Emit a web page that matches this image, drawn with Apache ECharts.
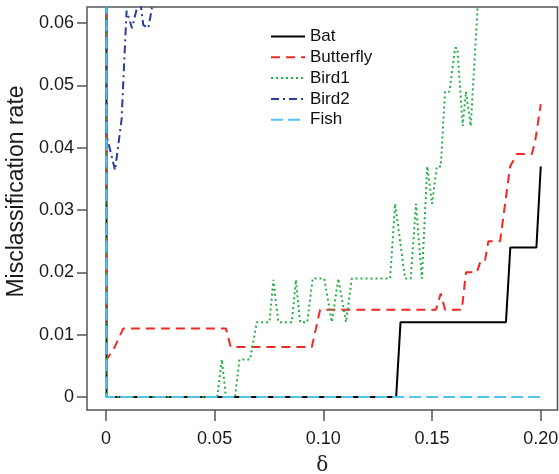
<!DOCTYPE html>
<html>
<head>
<meta charset="utf-8">
<script src="https://cdn.jsdelivr.net/npm/echarts@6/dist/echarts.min.js"></script>
<style>
  html, body { margin: 0; padding: 0; background: #ffffff; }
  #chart { width: 559px; height: 474px; }
</style>
</head>
<body>
<div id="chart"></div>
<script>
// ---- tick values / labels ----
const xTickValues = [0, 0.05, 0.10, 0.15, 0.20];
const xTickLabels = ['0', '0.05', '0.10', '0.15', '0.20'];
const yTickValues = [0, 0.01, 0.02, 0.03, 0.04, 0.05, 0.06];
const yTickLabels = ['0', '0.01', '0.02', '0.03', '0.04', '0.05', '0.06'];

// ---- series names ----
const seriesNames = ['Bat', 'Butterfly', 'Bird1', 'Bird2', 'Fish'];

// ---- Bat ----
const batDelta = [0, 0.0003, 0.1335, 0.1355, 0.184, 0.186, 0.198, 0.2];
const batRate  = [0.5, 0, 0, 0.012, 0.012, 0.024, 0.024, 0.037];

// ---- Butterfly ----
const butterflyDelta = [0, 0.0003, 0.004, 0.008, 0.0552, 0.0574, 0.0947, 0.0985, 0.1518, 0.154, 0.156, 0.1637, 0.1656, 0.1706, 0.1725, 0.1744, 0.1759, 0.1813, 0.1859, 0.189, 0.1959, 0.1974, 0.2];
const butterflyRate  = [0.5, 0.006, 0.008, 0.011, 0.011, 0.008, 0.008, 0.014, 0.014, 0.0166, 0.014, 0.014, 0.020, 0.020, 0.022, 0.022, 0.025, 0.025, 0.037, 0.039, 0.039, 0.041, 0.047];

// ---- Bird1 ----
const bird1Delta = [0, 0.0003, 0.0512, 0.0533, 0.0552, 0.0594, 0.0614, 0.0663, 0.0694, 0.0752, 0.0770, 0.0793, 0.0855, 0.0874, 0.0893, 0.0926, 0.0951, 0.1004, 0.1039, 0.1069, 0.1104, 0.1131, 0.1307, 0.1330, 0.1376, 0.1402, 0.1426, 0.1453, 0.1478, 0.1500, 0.1522, 0.1540, 0.1560, 0.1580, 0.1606, 0.1616, 0.1641, 0.1656, 0.1678, 0.1712, 0.175, 0.2];
const bird1Rate  = [0.5, 0, 0, 0.006, 0, 0, 0.006, 0.006, 0.012, 0.012, 0.0188, 0.012, 0.012, 0.0188, 0.012, 0.012, 0.019, 0.019, 0.012, 0.019, 0.012, 0.019, 0.019, 0.031, 0.019, 0.019, 0.031, 0.019, 0.037, 0.031, 0.037, 0.037, 0.049, 0.049, 0.056, 0.056, 0.0435, 0.049, 0.0435, 0.064, 0.07, 0.08];

// ---- Bird2 ----
const bird2Delta = [0, 0.0003, 0.0042, 0.0072, 0.0095, 0.0120, 0.0143, 0.0158, 0.0172, 0.0195, 0.0210, 0.0230, 0.2];
const bird2Rate  = [0.5, 0.042, 0.0364, 0.0445, 0.062, 0.0592, 0.0625, 0.0635, 0.0597, 0.0592, 0.0621, 0.068, 0.09];

// ---- Fish ----
const fishDelta = [0, 0.0003, 0.2];
const fishRate  = [0.5, 0, 0];

function pairs(xs, ys) { return xs.map((x, i) => [x, ys[i]]); }
function labelFor(values, labels, v) {
  for (let i = 0; i < values.length; i++) if (Math.abs(values[i] - v) < 1e-9) return labels[i];
  return '';
}

const chart = echarts.init(document.getElementById('chart'), null, { renderer: 'canvas' });

const FONT = 'Liberation Sans, Arial, sans-serif';
const frameColor = '#555555';

const option = {
  animation: false,
  backgroundColor: '#ffffff',
  grid: {
    left: 87, right: 1.5, top: 7, bottom: 64,
    outerBoundsMode: 'none',
    containLabel: false,
    show: true, borderColor: frameColor, borderWidth: 1.5, backgroundColor: 'transparent'
  },
  legend: {
    orient: 'vertical',
    left: 265, top: 23,
    padding: 5,
    itemWidth: 34, itemHeight: 20, itemGap: 3.8,
    data: seriesNames,
    itemStyle: { opacity: 0, color: 'transparent', borderWidth: 0 },
    textStyle: { fontFamily: FONT, fontSize: 17, color: '#111' }
  },
  xAxis: {
    type: 'value',
    min: -0.0087, max: 0.2077,
    name: 'δ',
    nameLocation: 'middle',
    nameGap: 46,
    nameTextStyle: { fontFamily: 'DejaVu Serif, serif', fontSize: 20, color: '#222' },
    axisLine: { show: false, onZero: false },
    splitLine: { show: false },
    axisTick: { show: true, inside: false, length: 11, customValues: xTickValues, lineStyle: { color: frameColor, width: 1.5 } },
    axisLabel: {
      customValues: xTickValues, margin: 20,
      fontFamily: FONT, fontSize: 18, color: '#1a1a1a',
      formatter: v => labelFor(xTickValues, xTickLabels, v)
    }
  },
  yAxis: {
    type: 'value',
    min: -0.0021, max: 0.0626,
    name: 'Misclassification rate',
    nameLocation: 'middle',
    nameGap: 57,
    nameTextStyle: { fontFamily: FONT, fontSize: 23, color: '#1a1a1a', padding: [0, 0, 0, 34] },
    axisLine: { show: false, onZero: false },
    splitLine: { show: false },
    axisTick: { show: true, inside: false, length: 10, customValues: yTickValues, lineStyle: { color: frameColor, width: 1.5 } },
    axisLabel: {
      customValues: yTickValues, margin: 13,
      fontFamily: FONT, fontSize: 18, color: '#1a1a1a',
      formatter: v => labelFor(yTickValues, yTickLabels, v)
    }
  },
  series: [
    { name: 'Bat', type: 'line', data: pairs(batDelta, batRate), symbol: 'none', clip: true,
      lineStyle: { color: '#000000', width: 2, type: 'solid' }, itemStyle: { color: '#000000' } },
    { name: 'Butterfly', type: 'line', data: pairs(butterflyDelta, butterflyRate), symbol: 'none', clip: true,
      lineStyle: { color: '#EE2A24', width: 2, type: [9, 6] }, itemStyle: { color: '#EE2A24' } },
    { name: 'Bird1', type: 'line', data: pairs(bird1Delta, bird1Rate), symbol: 'none', clip: true,
      lineStyle: { color: '#25AE48', width: 2, type: [2, 3] }, itemStyle: { color: '#25AE48' } },
    { name: 'Bird2', type: 'line', data: pairs(bird2Delta, bird2Rate), symbol: 'none', clip: true,
      lineStyle: { color: '#2B3C9A', width: 2, type: [8, 4, 2, 4] }, itemStyle: { color: '#2B3C9A' } },
    { name: 'Fish', type: 'line', data: pairs(fishDelta, fishRate), symbol: 'none', clip: true,
      lineStyle: { color: '#50C4EE', width: 2, type: [12, 5] }, itemStyle: { color: '#50C4EE' } }
  ]
};

chart.setOption(option);
</script>
</body>
</html>
